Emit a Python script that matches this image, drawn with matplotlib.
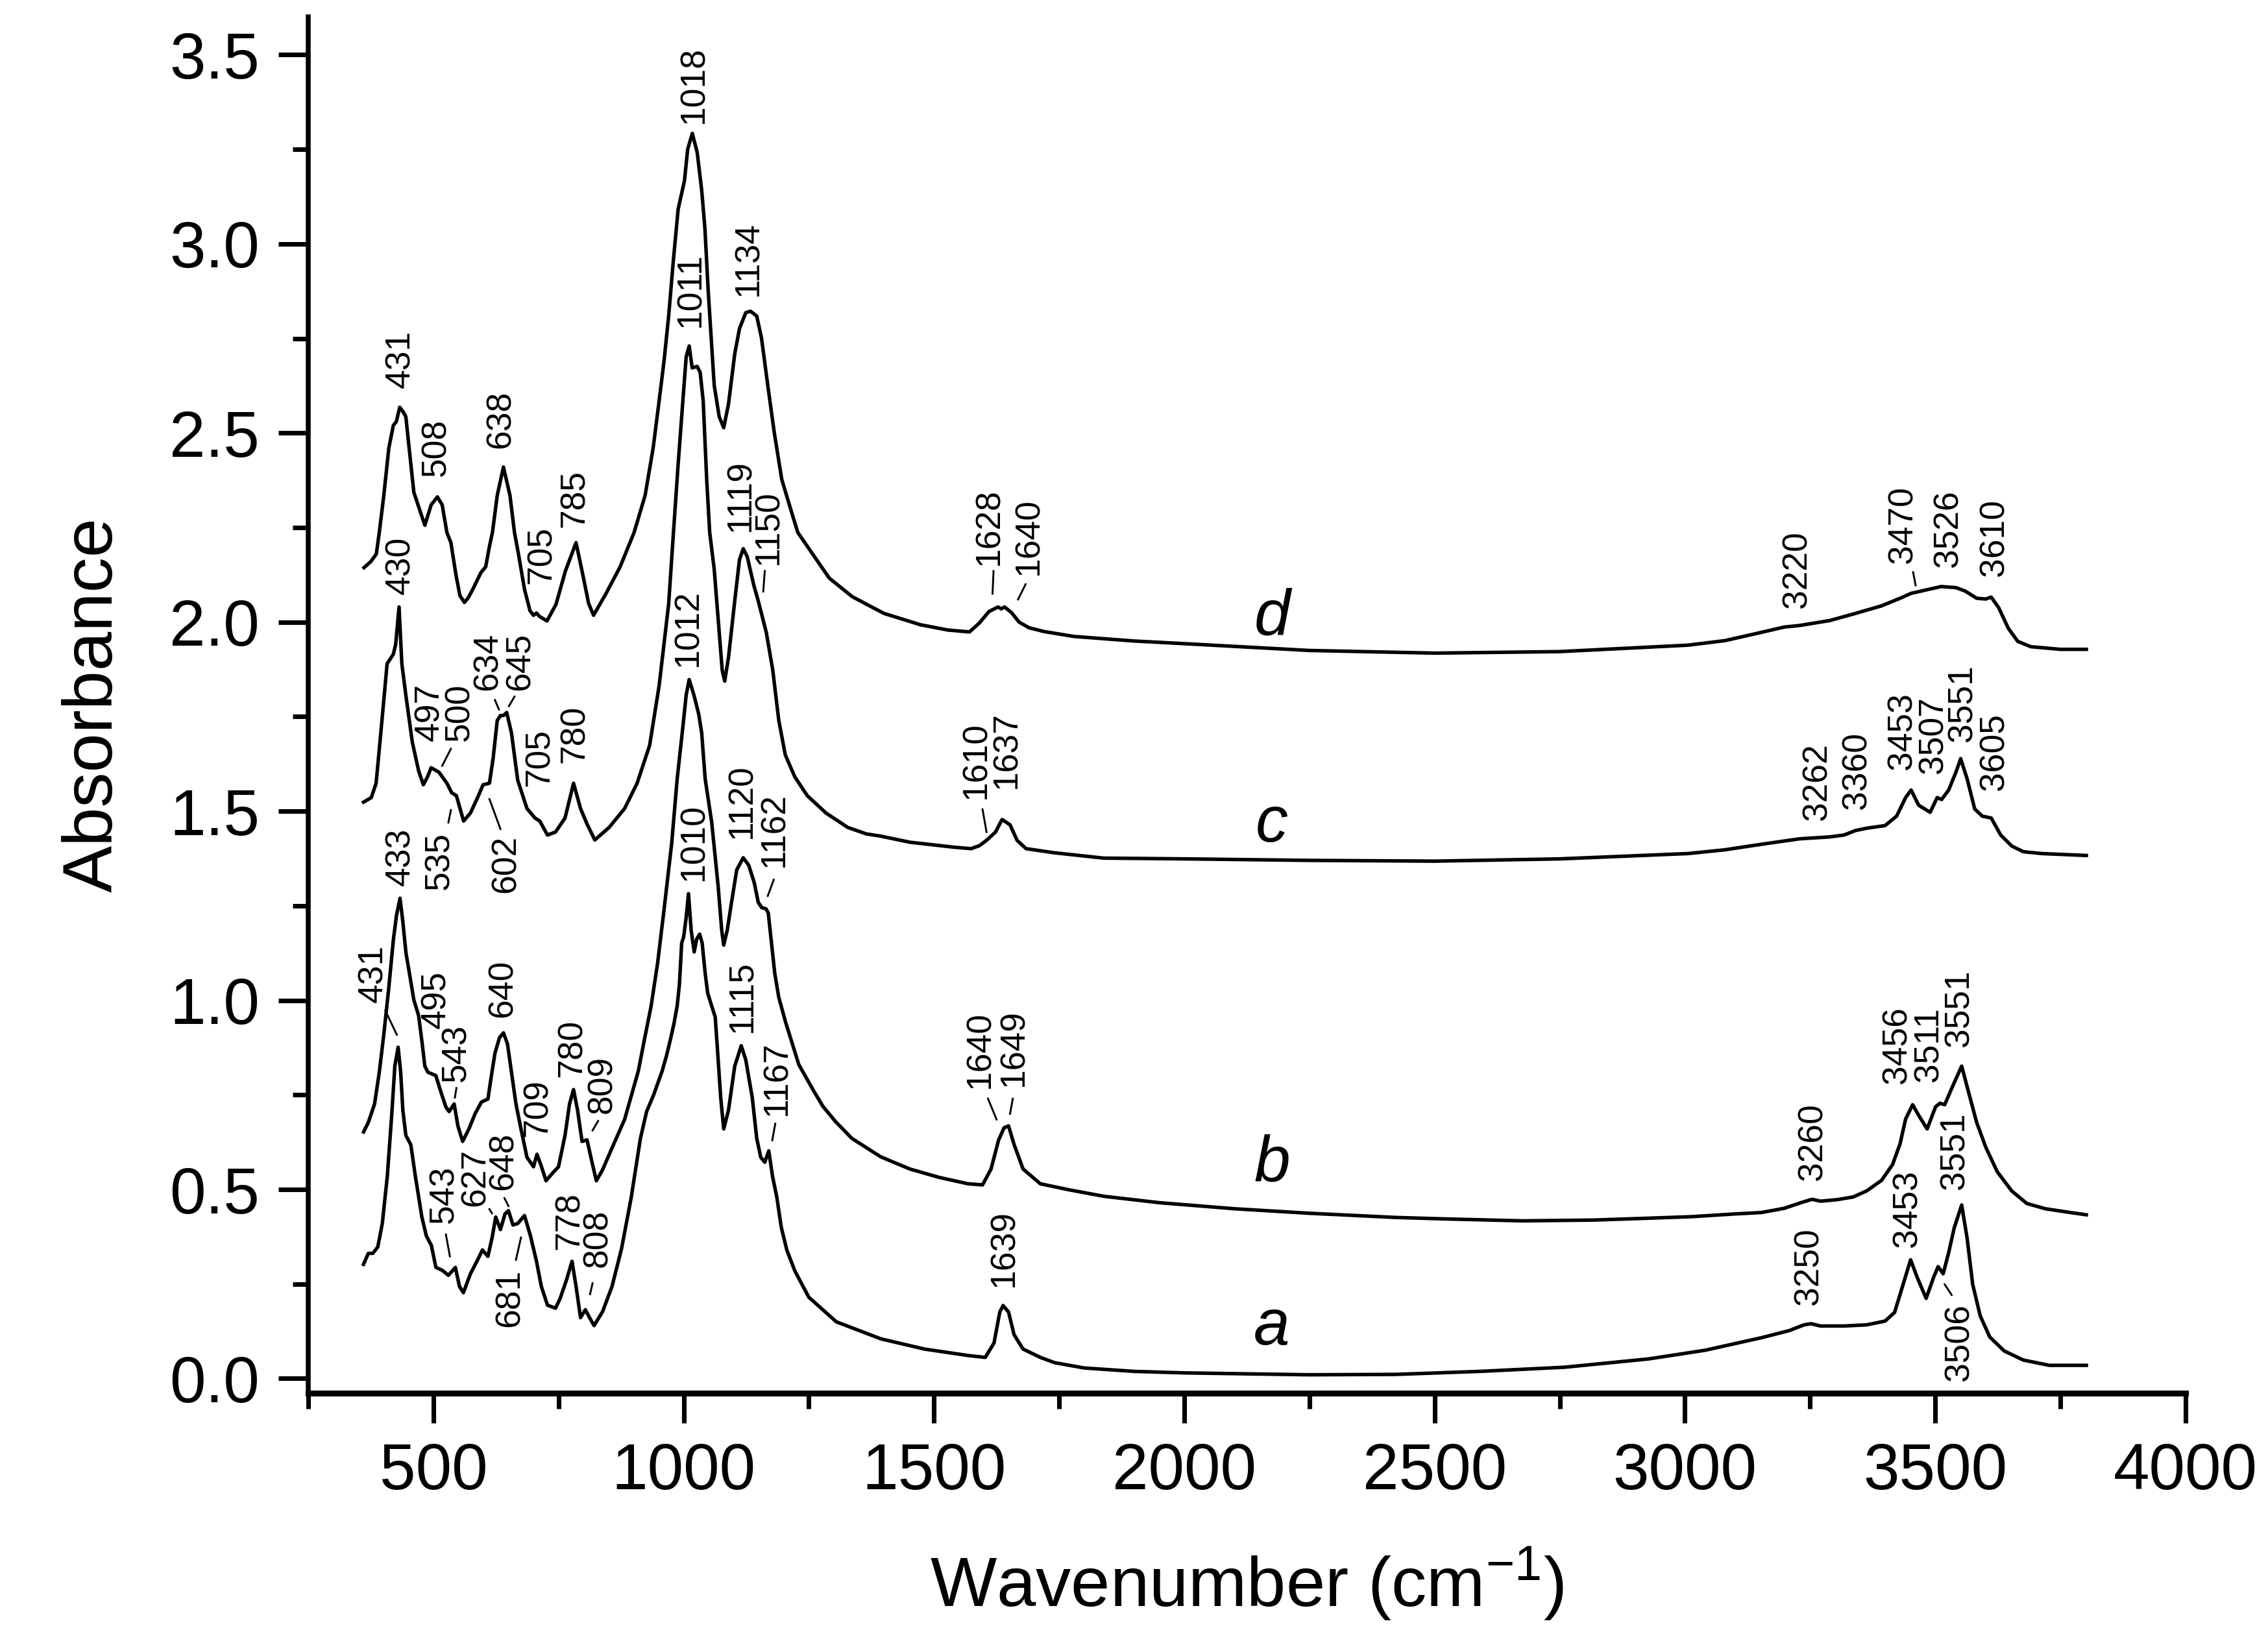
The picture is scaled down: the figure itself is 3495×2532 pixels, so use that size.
import matplotlib
matplotlib.use("Agg")
import matplotlib.pyplot as plt
from matplotlib.ticker import MultipleLocator, FormatStrFormatter

plt.rcParams['font.family'] = ['Liberation Sans', 'DejaVu Sans']
plt.rcParams['mathtext.fontset'] = 'custom'
plt.rcParams['mathtext.rm'] = 'Liberation Sans'
plt.rcParams['mathtext.it'] = 'Liberation Sans:italic'

# spectra: (wavenumber, absorbance)
spectrum_a = [
    (360.5, 0.302), (370, 0.331), (379, 0.331), (389, 0.348), (398, 0.41), (408, 0.535),
    (417, 0.701), (423, 0.826), (429.6, 0.876), (434.7, 0.81), (439, 0.71), (445, 0.643),
    (455, 0.618), (464, 0.535), (477, 0.427), (486, 0.377), (496, 0.352), (505, 0.294),
    (518, 0.286), (530, 0.273), (544, 0.294), (552, 0.244), (560, 0.227), (574, 0.277),
    (587, 0.31), (598, 0.34), (609, 0.323), (618, 0.377), (624.5, 0.427), (634, 0.394),
    (643, 0.435), (650, 0.444), (659, 0.406), (668.5, 0.41), (682, 0.431), (694, 0.377),
    (706, 0.31), (715.6, 0.244), (728, 0.194), (744, 0.186), (753, 0.211), (766, 0.261),
    (777, 0.31), (785, 0.244), (794, 0.161), (803.6, 0.182), (812, 0.161), (821, 0.14),
    (838, 0.177), (857, 0.244), (876, 0.344), (895, 0.477), (913.6, 0.635), (926, 0.706),
    (940, 0.75), (957, 0.813), (965.6, 0.853), (974, 0.899), (980.7, 0.939), (987, 0.985),
    (991.5, 1.042), (996, 1.151), (1000, 1.168), (1005, 1.219), (1009.6, 1.282),
    (1015, 1.185), (1021, 1.128), (1026, 1.162), (1032, 1.175), (1037, 1.151),
    (1043, 1.071), (1048, 1.019), (1056, 0.985), (1063, 0.956), (1067, 0.88),
    (1074, 0.743), (1080, 0.66), (1089.6, 0.71), (1102, 0.826), (1115, 0.88),
    (1124, 0.843), (1137, 0.743), (1146, 0.635), (1154, 0.585), (1162, 0.572),
    (1170, 0.602), (1177.5, 0.535), (1186, 0.48), (1195, 0.40), (1206, 0.34),
    (1222, 0.285), (1250, 0.215), (1305, 0.15), (1394, 0.105), (1481, 0.078),
    (1568, 0.061), (1602.5, 0.056), (1620, 0.094), (1631.5, 0.176), (1638, 0.193),
    (1649, 0.176), (1660, 0.116), (1678, 0.078), (1712.5, 0.056), (1741, 0.042),
    (1800, 0.028), (1900, 0.019), (2000, 0.015), (2250, 0.010), (2422, 0.011),
    (2591, 0.019), (2760, 0.030), (2928, 0.052), (3041, 0.075), (3153, 0.108),
    (3209, 0.127), (3238, 0.142), (3252, 0.145), (3271, 0.139), (3318, 0.139),
    (3363, 0.142), (3400, 0.152), (3419, 0.175), (3434, 0.24), (3451, 0.314),
    (3464, 0.268), (3482, 0.212), (3497, 0.268), (3506, 0.296), (3516, 0.277),
    (3527, 0.333), (3538, 0.398), (3553, 0.459), (3564, 0.37), (3575, 0.249),
    (3590, 0.166), (3609, 0.11), (3638, 0.073), (3676, 0.049), (3728, 0.035), (3802, 0.035),
]

spectrum_b = [
    (360.5, 0.652), (370, 0.677), (382.5, 0.726), (392, 0.81), (401, 0.91), (411, 1.034),
    (420, 1.159), (426.5, 1.226), (433.4, 1.27), (439, 1.208), (445.3, 1.125),
    (451.6, 1.076), (461, 1.001), (470.5, 0.96), (477, 0.893), (483, 0.826), (489, 0.81),
    (505, 0.801), (514.5, 0.76), (525, 0.718), (531.5, 0.706), (541.5, 0.726),
    (549, 0.668), (558.5, 0.627), (571, 0.66), (583.6, 0.701), (596, 0.731),
    (609, 0.739), (615, 0.793), (623, 0.86), (632, 0.901), (640, 0.914), (648, 0.885),
    (656, 0.81), (665, 0.726), (675, 0.66), (687, 0.585), (700, 0.56), (707, 0.593),
    (716, 0.56), (725, 0.523), (738, 0.543), (750, 0.56), (763, 0.643), (772, 0.726),
    (780, 0.764), (788, 0.71), (797, 0.627), (807, 0.631), (816, 0.577), (825.6, 0.523),
    (838, 0.552), (857, 0.61), (882, 0.685), (909.4, 0.813), (922, 0.899), (935, 0.985),
    (948, 1.099), (961, 1.242), (976, 1.414), (987, 1.585), (998.5, 1.724), (1005, 1.807),
    (1011, 1.848), (1020.5, 1.807), (1030, 1.757), (1036, 1.707), (1043, 1.585),
    (1056, 1.471), (1069, 1.30), (1076, 1.185), (1080, 1.146), (1087, 1.185),
    (1095, 1.254), (1106, 1.345), (1119, 1.377), (1130, 1.357), (1141, 1.311),
    (1149, 1.259), (1156, 1.245), (1164.4, 1.242), (1169, 1.231), (1175, 1.157),
    (1182, 1.071), (1190, 1.008), (1203, 0.945), (1230, 0.83), (1260, 0.76),
    (1278, 0.72), (1303, 0.68), (1336, 0.635), (1394, 0.586), (1452, 0.554),
    (1510, 0.532), (1568, 0.515), (1597, 0.512), (1614, 0.554), (1629, 0.63),
    (1640, 0.663), (1649, 0.668), (1660, 0.619), (1678, 0.554), (1712.5, 0.515),
    (1770, 0.499), (1839, 0.482), (1950, 0.465), (2100, 0.449), (2250, 0.437),
    (2422, 0.426), (2523, 0.422), (2675, 0.417), (2816, 0.419), (2928, 0.424),
    (3013, 0.428), (3097, 0.435), (3153, 0.439), (3198, 0.450), (3232, 0.465),
    (3254, 0.474), (3271, 0.469), (3304, 0.473), (3336, 0.480), (3363, 0.496),
    (3393, 0.524), (3415, 0.566), (3430, 0.621), (3441, 0.686), (3455, 0.724),
    (3467, 0.696), (3484, 0.66), (3501, 0.719), (3510, 0.728), (3519, 0.724),
    (3534, 0.77), (3553, 0.826), (3568, 0.751), (3583, 0.677), (3601, 0.612),
    (3624, 0.547), (3653, 0.496), (3683, 0.463), (3720, 0.449), (3765, 0.44), (3802, 0.433),
]

spectrum_c = [
    (360.5, 1.524), (376, 1.536), (385.6, 1.574), (395, 1.707), (407.6, 1.89), (420, 1.915),
    (424.6, 1.94), (431.5, 2.04), (437, 1.89), (445, 1.807), (458, 1.682), (470.5, 1.607),
    (480, 1.57), (488, 1.59), (495.6, 1.615), (511.3, 1.603), (527, 1.574), (536.5, 1.549),
    (546, 1.541), (560.4, 1.474), (574, 1.495), (590, 1.541), (599.3, 1.57), (612, 1.574),
    (619.4, 1.64), (627.6, 1.74), (634, 1.753), (640, 1.753), (646.5, 1.761), (656, 1.707),
    (668.5, 1.582), (687, 1.507), (703, 1.482), (712.5, 1.474), (728, 1.437), (744, 1.445),
    (763, 1.482), (780, 1.574), (794, 1.507), (807, 1.466), (822.5, 1.424), (851, 1.457),
    (882, 1.507), (907, 1.574), (932, 1.674), (951, 1.832), (970, 2.048), (979.6, 2.237),
    (989, 2.418), (998.4, 2.585), (1005, 2.701), (1011, 2.730), (1017, 2.672),
    (1027, 2.676), (1033, 2.66), (1039, 2.585), (1046, 2.377), (1052, 2.237),
    (1061, 2.14), (1071, 1.973), (1077, 1.873), (1082, 1.844), (1089.6, 1.907),
    (1102, 2.056), (1111.5, 2.165), (1119, 2.194), (1127, 2.173), (1140, 2.098),
    (1149, 2.056), (1165, 1.973), (1178, 1.873), (1190, 1.74), (1203, 1.649),
    (1222, 1.591), (1247, 1.541), (1284.5, 1.495), (1328, 1.457), (1365, 1.44),
    (1394, 1.434), (1452, 1.418), (1539, 1.405), (1574, 1.401), (1591, 1.409),
    (1605, 1.423), (1623, 1.445), (1636, 1.478), (1652, 1.464), (1666, 1.423),
    (1684, 1.401), (1741, 1.39), (1839, 1.376), (2000, 1.374), (2250, 1.37),
    (2500, 1.368), (2750, 1.374), (3006, 1.388), (3080, 1.398), (3155, 1.413),
    (3229, 1.427), (3289, 1.432), (3318, 1.437), (3341, 1.449), (3363, 1.455),
    (3400, 1.462), (3423, 1.487), (3441, 1.536), (3452, 1.556), (3467, 1.516),
    (3490, 1.497), (3504, 1.536), (3513, 1.531), (3527, 1.556), (3542, 1.605),
    (3551, 1.639), (3564, 1.585), (3579, 1.506), (3594, 1.487), (3612, 1.482),
    (3631, 1.437), (3653, 1.408), (3676, 1.393), (3713, 1.388), (3802, 1.383),
]

spectrum_d = [
    (361.5, 2.144), (375, 2.16), (386, 2.18), (392, 2.237), (401, 2.335), (411, 2.46),
    (420, 2.52), (426, 2.53), (432.8, 2.568), (440, 2.555), (445, 2.543), (451.6, 2.46),
    (461, 2.343), (473.6, 2.293), (483, 2.256), (495.6, 2.31), (508, 2.331), (517.6, 2.31),
    (527, 2.237), (535, 2.21), (545, 2.126), (553, 2.07), (562, 2.052), (570, 2.065),
    (580, 2.09), (595, 2.131), (604.5, 2.146), (612, 2.20), (618, 2.237), (627.6, 2.335),
    (640, 2.41), (653, 2.335), (662, 2.237), (670, 2.18), (682, 2.087), (693, 2.03),
    (700, 2.018), (706, 2.024), (712, 2.015), (727, 2.003), (745, 2.047), (764, 2.136),
    (785, 2.21), (800, 2.116), (810, 2.05), (820, 2.018), (845.5, 2.077), (873, 2.146),
    (901, 2.237), (923, 2.335), (939, 2.46), (951, 2.585), (961, 2.693), (970, 2.809),
    (979.6, 2.959), (989, 3.092), (1001.6, 3.167), (1008, 3.25), (1017.3, 3.292),
    (1027, 3.242), (1036, 3.142), (1042.4, 3.042), (1049, 2.876), (1055, 2.751),
    (1061, 2.626), (1071, 2.543), (1080, 2.514), (1089.5, 2.576), (1102, 2.709),
    (1111.5, 2.776), (1124, 2.818), (1133.6, 2.822), (1146, 2.809), (1155.5, 2.751),
    (1168, 2.626), (1181, 2.501), (1196, 2.377), (1215, 2.293), (1228, 2.237),
    (1255, 2.185), (1291, 2.116), (1337, 2.067), (1400, 2.023), (1473, 1.993),
    (1528, 1.979), (1571, 1.974), (1591, 1.998), (1610, 2.028), (1628, 2.04),
    (1634, 2.035), (1641, 2.04), (1655, 2.025), (1670, 2.0), (1690, 1.985),
    (1720, 1.975), (1780, 1.962), (1900, 1.95), (2000, 1.943), (2250, 1.925),
    (2500, 1.918), (2750, 1.922), (3006, 1.939), (3080, 1.951), (3140, 1.969),
    (3199, 1.987), (3229, 1.991), (3289, 2.004), (3341, 2.023), (3393, 2.043),
    (3430, 2.063), (3452, 2.076), (3482, 2.085), (3512, 2.094), (3542, 2.091),
    (3560, 2.082), (3583, 2.063), (3601, 2.061), (3612, 2.066), (3627, 2.038),
    (3646, 1.984), (3665, 1.949), (3691, 1.935), (3750, 1.928), (3802, 1.928),
]

spectra = [spectrum_a, spectrum_b, spectrum_c, spectrum_d]
curve_names = ["a", "b", "c", "d"]

# peak labels: (text, x, y, below_curve, leader line or None)
peaks_a = [
    ("431", 380, 0.995, False, (404, 0.973, 427, 0.909)),
    ("543", 521, 0.41, False, (525, 0.381, 533, 0.323)),
    ("627", 584, 0.456, False, (612, 0.448, 617, 0.437)),
    ("648", 640, 0.498, False, (642, 0.477, 650, 0.456)),
    ("681", 653, 0.29, True, (665, 0.314, 675, 0.373)),
    ("778", 771.5, 0.34, False, None),
    ("808", 829, 0.294, False, (818, 0.252, 813, 0.223)),
    ("1010", 1020.5, 1.317, False, None),
    ("1115", 1116, 0.915, False, None),
    ("1167", 1186, 0.696, False, (1183, 0.674, 1177, 0.63)),
    ("1639", 1640, 0.242, False, None),
    ("3250", 3248, 0.194, False, None),
    ("3453", 3445, 0.347, False, None),
    ("3551", 3540, 0.50, False, None),
    ("3506", 3549, 0.198, True, (3533, 0.221, 3519, 0.249)),
]
peaks_b = [
    ("433", 434.7, 1.303, False, None),
    ("495", 506, 0.926, False, None),
    ("543", 546, 0.785, False, (546, 0.768, 543, 0.743)),
    ("640", 638, 0.955, False, None),
    ("709", 709, 0.639, False, None),
    ("780", 777, 0.797, False, None),
    ("809", 838, 0.701, False, (829, 0.681, 818, 0.656)),
    ("1012", 1009, 1.882, False, None),
    ("1120", 1117, 1.429, False, None),
    ("1162", 1181, 1.352, False, (1180, 1.319, 1168, 1.276)),
    ("1640", 1592, 0.767, False, (1608, 0.74, 1625, 0.685)),
    ("1649", 1659, 0.772, False, (1657.5, 0.74, 1652, 0.70)),
    ("3260", 3255, 0.524, False, None),
    ("3456", 3424, 0.779, False, None),
    ("3511", 3487, 0.784, False, None),
    ("3551", 3549, 0.877, False, None),
]
peaks_c = [
    ("430", 434.7, 2.073, False, None),
    ("497", 492.5, 1.686, False, None),
    ("500", 552, 1.686, False, (535, 1.665, 517.6, 1.62)),
    ("634", 609, 1.819, False, (623, 1.794, 631, 1.769)),
    ("645", 673, 1.819, False, (662, 1.803, 651, 1.778)),
    ("535", 512.6, 1.445, True, (530, 1.47, 535, 1.503)),
    ("602", 644.6, 1.437, True, (634, 1.453, 612, 1.532)),
    ("705", 712.5, 1.566, False, None),
    ("780", 782, 1.628, False, None),
    ("1011", 1014, 2.78, False, None),
    ("1119", 1114, 2.24, False, None),
    ("1150", 1170, 2.152, False, (1162, 2.135, 1159, 2.081)),
    ("1610", 1585, 1.533, False, (1597, 1.505, 1605, 1.445)),
    ("1637", 1646, 1.56, False, None),
    ("3262", 3264, 1.477, False, None),
    ("3360", 3344, 1.506, False, None),
    ("3453", 3434, 1.61, False, None),
    ("3507", 3497, 1.60, False, None),
    ("3551", 3555, 1.684, False, None),
    ("3605", 3619, 1.555, False, None),
]
peaks_d = [
    ("431", 435, 2.618, False, None),
    ("508", 506, 2.386, False, None),
    ("638", 635, 2.46, False, None),
    ("705", 716, 2.10, False, None),
    ("785", 782, 2.25, False, None),
    ("1018", 1020, 3.318, False, None),
    ("1134", 1130, 2.863, False, None),
    ("1628", 1610, 2.15, False, (1619, 2.135, 1617, 2.075)),
    ("1640", 1690, 2.125, False, (1683, 2.10, 1668, 2.06)),
    ("3220", 3225, 2.038, False, None),
    ("3470", 3436, 2.156, False, (3456, 2.132, 3461, 2.097)),
    ("3526", 3527, 2.146, False, None),
    ("3610", 3619, 2.122, False, None),
]
peak_sets = [peaks_a, peaks_b, peaks_c, peaks_d]

# where the italic curve letters sit
name_x = [2175, 2175, 2175, 2175]
name_y = [0.134, 0.566, 1.464, 2.011]


fig = plt.figure(figsize=(11.65, 8.44), dpi=300)
ax = fig.add_axes([0.1359, 0.1522, 0.8277, 0.8375])

for pts in spectra:
    wn = [p[0] for p in pts]
    ab = [p[1] for p in pts]
    ax.plot(wn, ab, color='black', lw=1.3, solid_joinstyle='round')

for peaks in peak_sets:
    for text, x, y, below, leader in peaks:
        ax.text(x, y, text, rotation=90, fontsize=12.8,
                ha='center', va='top' if below else 'bottom')
        if leader is not None:
            ax.plot([leader[0], leader[2]], [leader[1], leader[3]],
                    color='black', lw=0.7)

for name, x, y in zip(curve_names, name_x, name_y):
    ax.text(x, y, name, fontsize=24, style='italic', ha='center', va='center')

ax.set_xlim(250, 4000)
ax.set_ylim(-0.038, 3.6)
ax.xaxis.set_major_locator(MultipleLocator(500))
ax.xaxis.set_minor_locator(MultipleLocator(250))
ax.yaxis.set_major_locator(MultipleLocator(0.5))
ax.yaxis.set_minor_locator(MultipleLocator(0.25))
ax.yaxis.set_major_formatter(FormatStrFormatter('%.1f'))
ax.set_xticks([500, 1000, 1500, 2000, 2500, 3000, 3500, 4000])

for side in ['top', 'right']:
    ax.spines[side].set_visible(False)
ax.spines['left'].set_linewidth(1.8)
ax.spines['bottom'].set_linewidth(2.2)

ax.tick_params(which='major', direction='out', length=11, width=1.7,
               labelsize=24, pad=7)
ax.tick_params(which='minor', direction='out', length=5.8, width=1.7)

ax.set_xlabel('Wavenumber (cm$^{-1}$)', fontsize=26, labelpad=16)
ax.set_ylabel('Absorbance', fontsize=26, labelpad=16)

fig.savefig('out.png', dpi=300)
